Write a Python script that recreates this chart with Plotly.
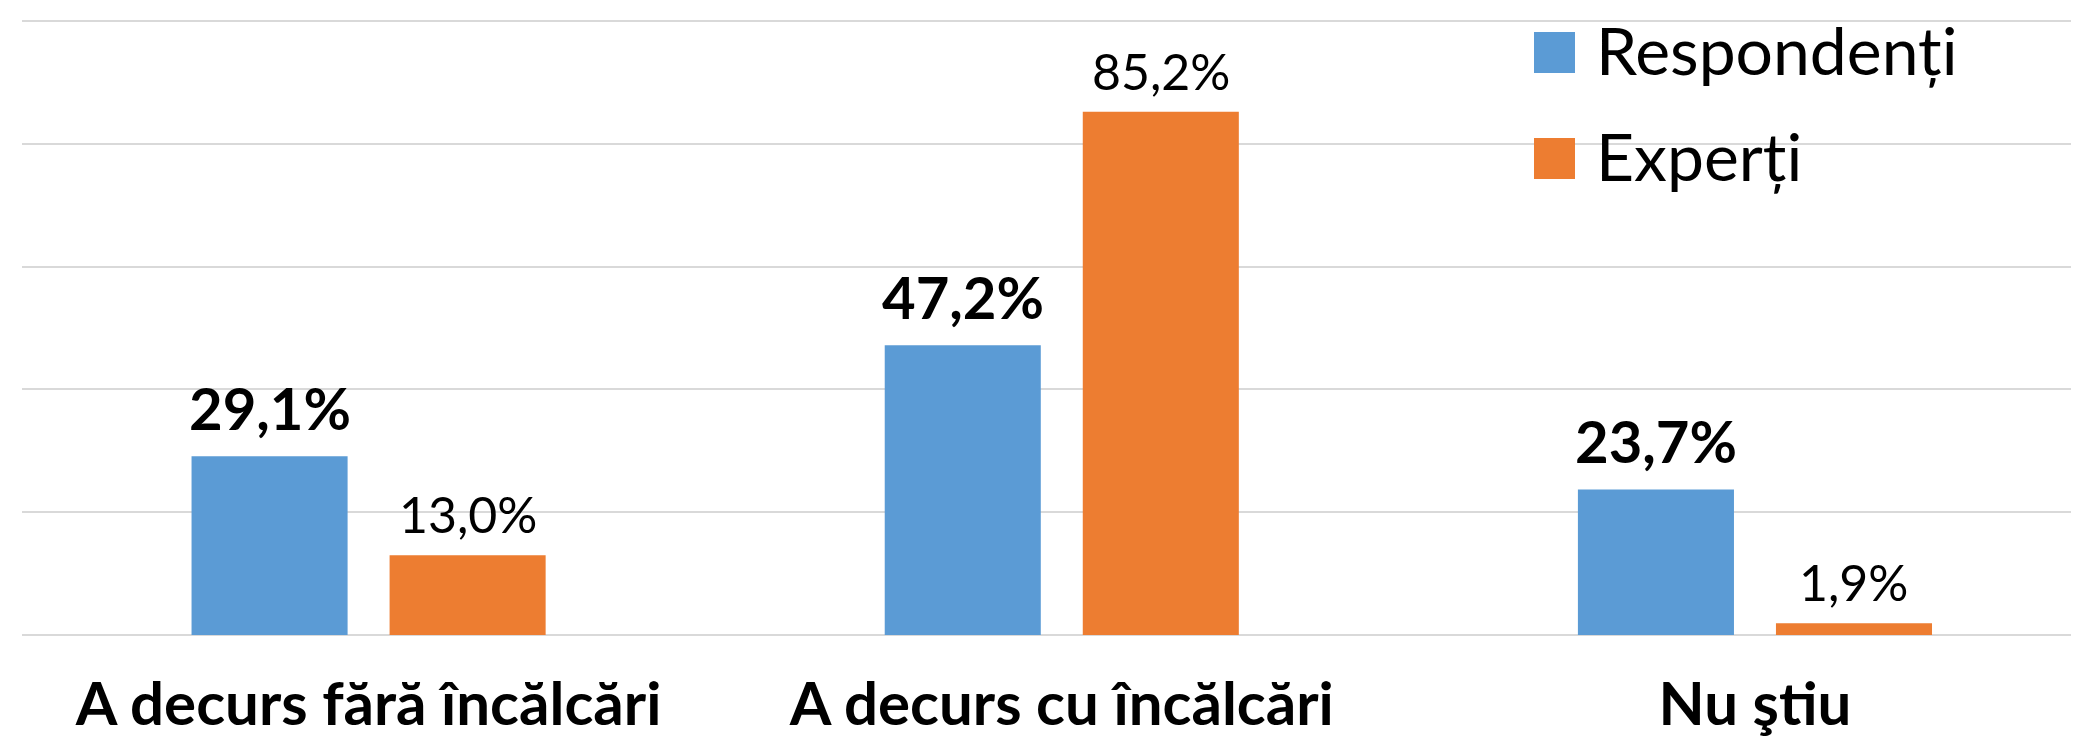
import plotly.graph_objects as go

# ---- data ----
categories = ["A decurs fără încălcări", "A decurs cu încălcări", "Nu ştiu"]
series_names = ["Respondenți", "Experți"]
respondenti = [29.1, 47.2, 23.7]
experti = [13.0, 85.2, 1.9]

# ---- style ----
BLUE = "#5B9BD5"
ORANGE = "#ED7D31"
GRID = "#D9D9D9"
FONT = "Lato"
W, H = 2079, 737
ML, MR, MT, MB = 14, 0, 11, 110
BARGAP = 0.4286
BARGROUPGAP = 0.212
PLOT_W = W - ML - MR
PLOT_H = H - MT - MB
Y_TOP = 100 + 2 / 6.14  # keep the 100 % grid line just inside the plot


def fmt(v):
    return f"{v:.1f}%".replace(".", ",")


def px_x(X):
    return (X - ML) / PLOT_W


def px_y(Y):
    return (H - MB - Y) / PLOT_H


fig = go.Figure()
fig.add_trace(go.Bar(x=categories, y=respondenti, name=series_names[0],
                     marker=dict(color=BLUE, line=dict(width=0)), showlegend=False))
fig.add_trace(go.Bar(x=categories, y=experti, name=series_names[1],
                     marker=dict(color=ORANGE, line=dict(width=0)), showlegend=False))

# value labels
slot = (1 - BARGAP) / 2
offsets = [-slot / 2, slot / 2]
label_styles = [
    dict(family=FONT, size=58, color="#000000", weight="bold"),
    dict(family=FONT, size=50, color="#000000"),
]
yshifts = [12, 9]
for values, off, fnt, ys in zip([respondenti, experti], offsets, label_styles, yshifts):
    for i, v in enumerate(values):
        fig.add_annotation(x=i + off, y=v, xref="x", yref="y", text=fmt(v),
                           showarrow=False, xanchor="center", yanchor="bottom",
                           yshift=ys, font=fnt)

# manual legend (large swatches)
legend_rows = [(series_names[0], BLUE, 24, 65, 0.5), (series_names[1], ORANGE, 130, 171, 106)]
for name, col, y0, y1, ty in legend_rows:
    fig.add_shape(type="rect", xref="paper", yref="paper",
                  x0=px_x(1526), x1=px_x(1567), y0=px_y(y1), y1=px_y(y0),
                  fillcolor=col, line=dict(width=0), layer="above")
    fig.add_annotation(xref="paper", yref="paper", x=px_x(1586), y=px_y(ty),
                       text=name, showarrow=False, xanchor="left", yanchor="top",
                       font=dict(family=FONT, size=66, color="#000000"))

fig.update_layout(
    width=W, height=H,
    margin=dict(l=ML, r=MR, t=MT, b=MB, pad=0),
    paper_bgcolor="white", plot_bgcolor="white",
    barmode="group", bargap=BARGAP, bargroupgap=BARGROUPGAP,
    showlegend=False,
    font=dict(family=FONT, color="#000000"),
)
fig.update_xaxes(type="category", range=[-0.5, 2.479], showgrid=False,
                 showline=False, ticks="", zeroline=False,
                 tickfont=dict(family=FONT, size=60, color="#000000", weight="bold"),
                 ticklabelstandoff=29)
fig.update_yaxes(range=[0, Y_TOP], dtick=20, showticklabels=False, showgrid=True,
                 gridcolor=GRID, gridwidth=2, zeroline=True, zerolinecolor=GRID,
                 zerolinewidth=2, showline=False)

fig.write_html("out.html")
